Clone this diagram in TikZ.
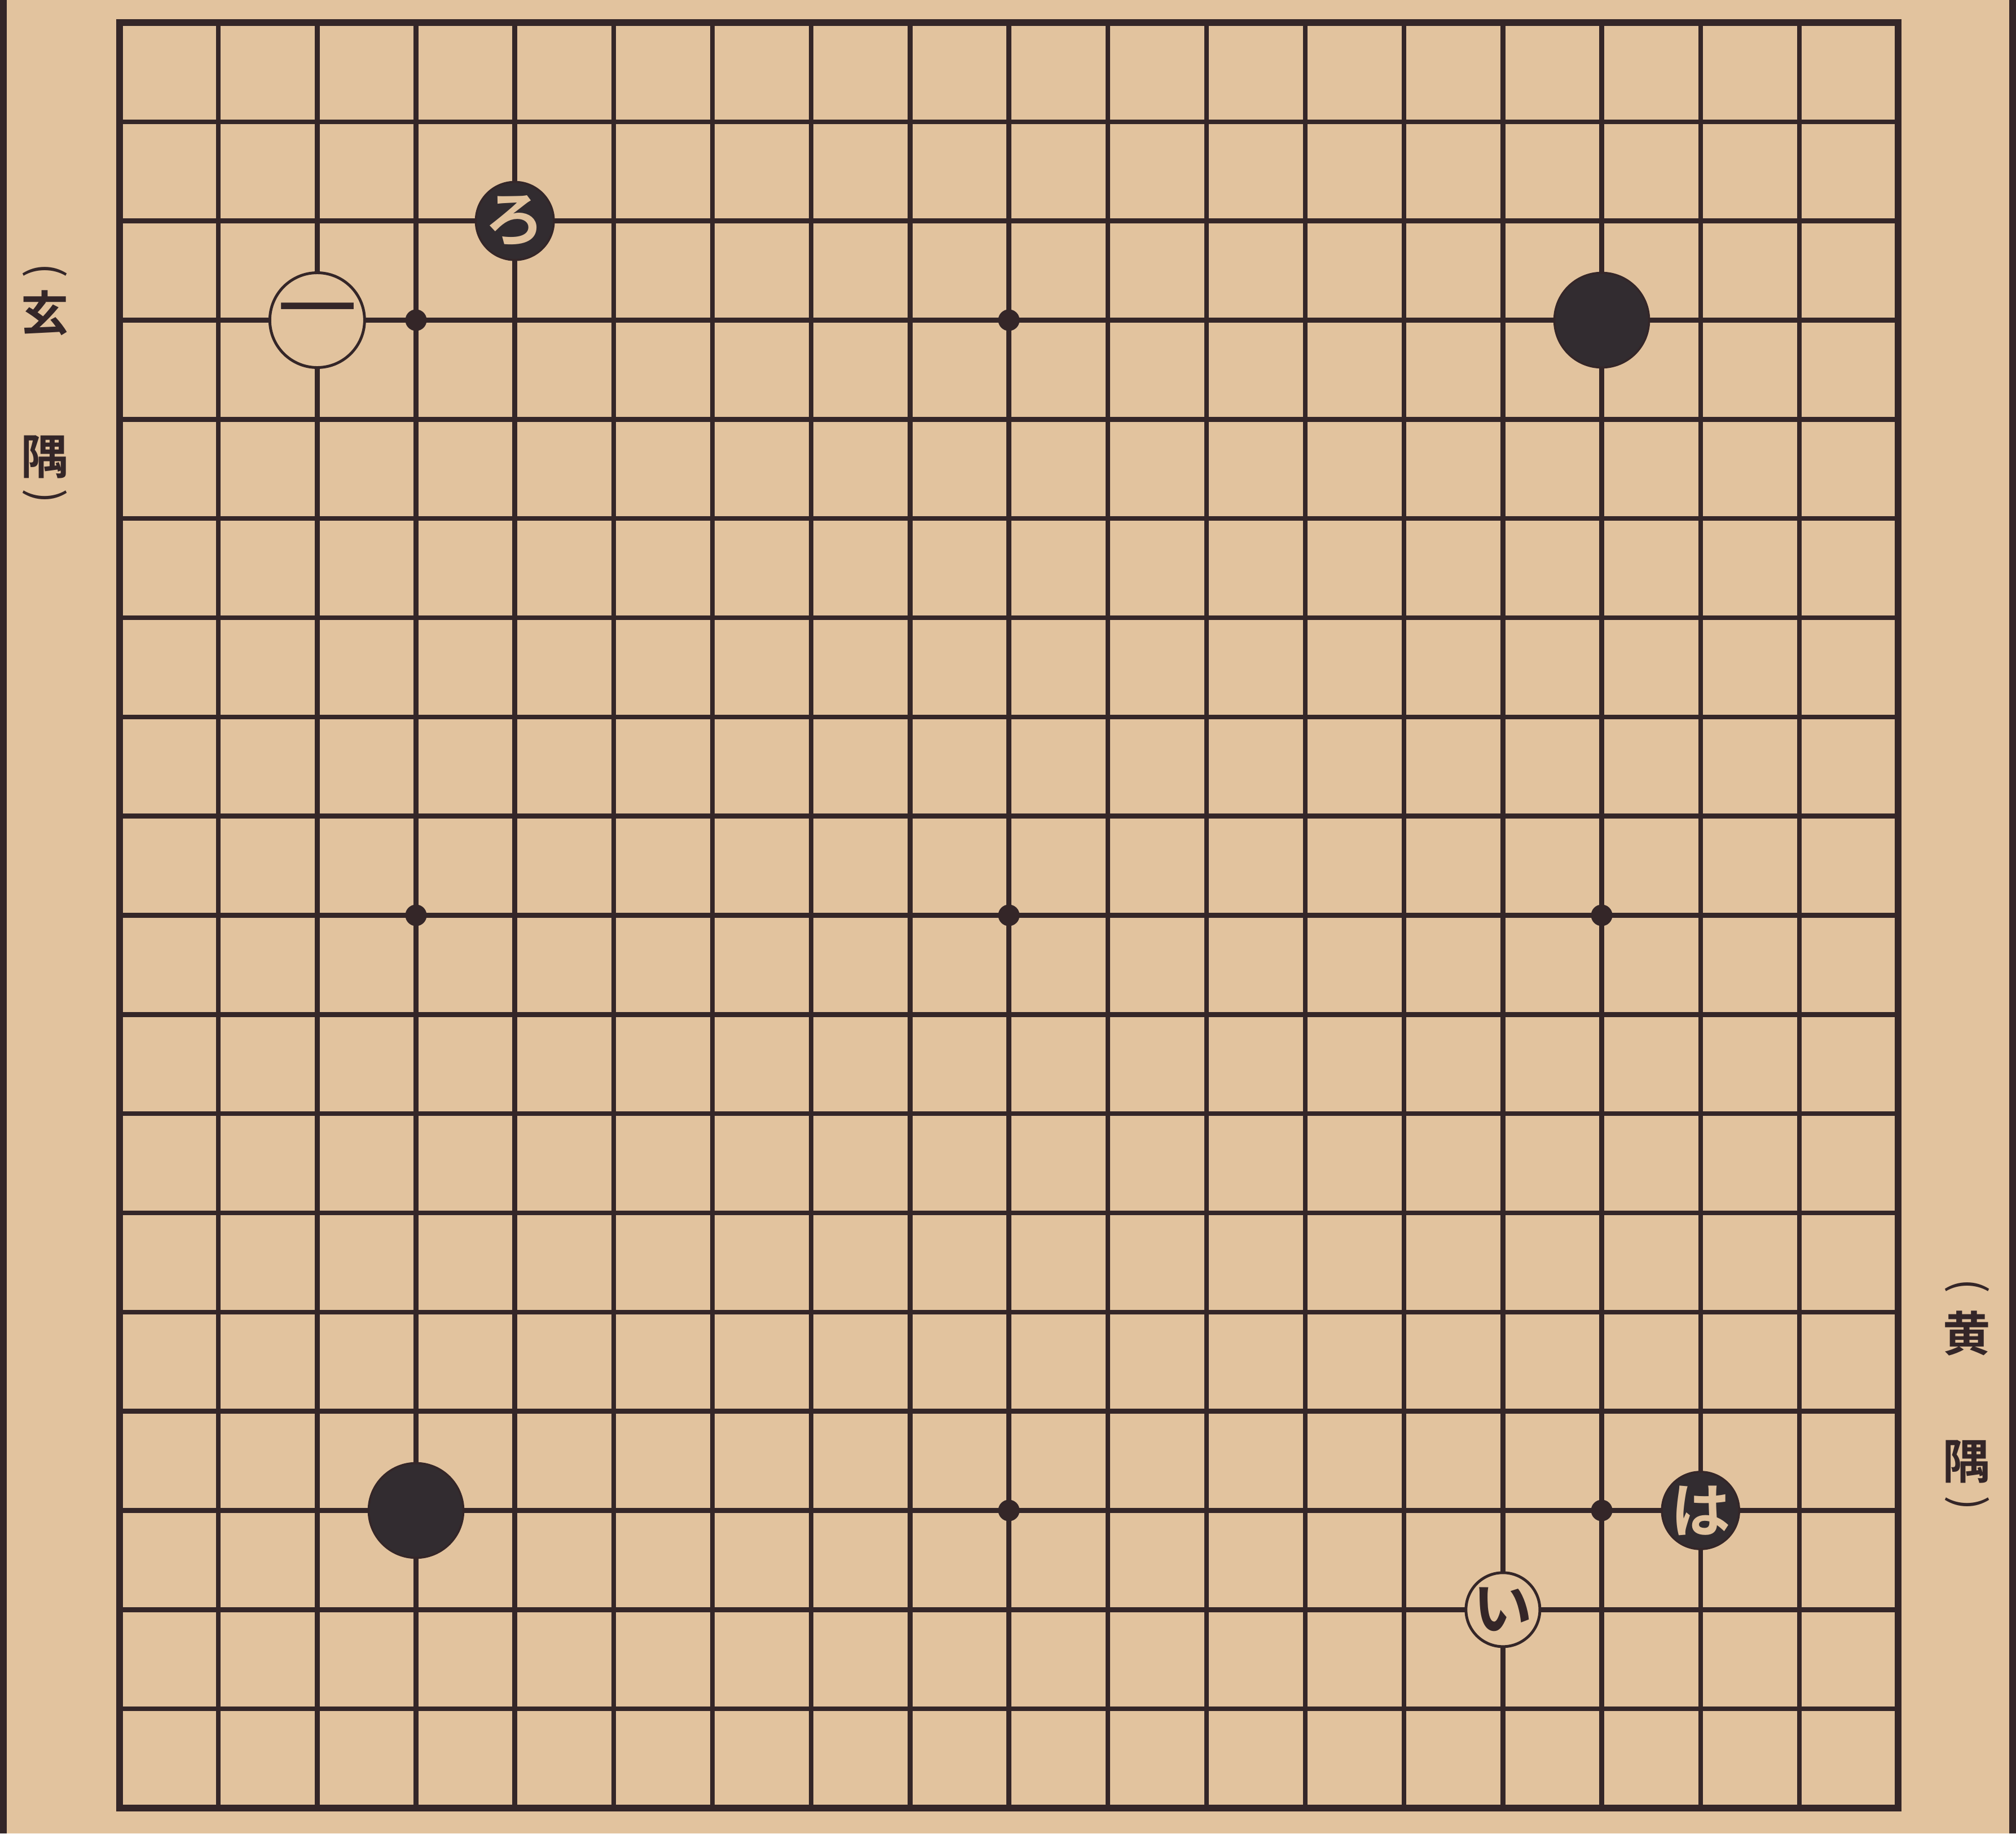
\documentclass[tikz,border=0pt]{standalone}
\usepackage{fontspec}
\newfontfamily\jpfont{Noto Sans CJK JP}[BoldFont={* Bold}]
\usetikzlibrary{positioning}
\definecolor{paper}{RGB}{226,195,158}
\definecolor{ink}{RGB}{52,38,40}
\definecolor{stoneblack}{RGB}{50,44,48}

\begin{document}
\begin{tikzpicture}[
    every node/.style={font=\jpfont},
    gridline/.style={ink, line width=2.4pt},
    frame/.style={ink, line width=3.2pt},
    bigblack/.style={circle, fill=stoneblack, draw=ink, line width=1pt, minimum size=1.68cm, inner sep=0pt},
    bigwhite/.style={circle, fill=paper, draw=ink, line width=1.4pt, minimum size=1.68cm, inner sep=0pt, text=ink, font=\jpfont\fontsize{40}{40}\selectfont},
    smallblack/.style={circle, fill=stoneblack, draw=ink, line width=1pt, minimum size=1.24cm, inner sep=0pt, text=paper, font=\jpfont\bfseries\fontsize{30}{30}\selectfont},
    smallwhite/.style={circle, fill=paper, draw=ink, line width=1.4pt, minimum size=1.24cm, inner sep=0pt, text=ink, font=\jpfont\bfseries\fontsize{30}{30}\selectfont},
    hoshi/.style={circle, fill=ink, minimum size=0.38cm, inner sep=0pt},
    corner/.style={inner sep=0pt, text=ink, font=\jpfont\bfseries\fontsize{24}{24}\selectfont},
    paren/.style={corner, rotate=-90, font=\jpfont\fontsize{22}{22}\selectfont}
]

% paper and page rules
\fill[paper] (0,0) rectangle (35.74,-32.50);
\useasboundingbox (0,0) rectangle (35.74,-32.50);
\draw[frame] (0.06,0) -- (0.06,-32.50);
\draw[frame] (35.68,0) -- (35.68,-32.50);

% board
\begin{scope}[shift={(2.12,-0.40)}, x=1.7517cm, y=-1.7583cm]
  \foreach \i in {1,...,17} {
    \draw[gridline] (\i,0) -- (\i,18);
    \draw[gridline] (0,\i) -- (18,\i);
  }
  \draw[frame] (0,0) rectangle (18,18);

  \foreach \x/\y in {3/3,9/3,15/3,3/9,9/9,15/9,3/15,9/15,15/15}
    \node[hoshi] (hoshi-\x-\y) at (\x,\y) {};

  % stones
  \node[bigwhite] (w-ichi) at (2,3) {一};
  \node[smallblack] (b-ro) at (4,2) {ろ};
  \node[bigblack] (b-ur) at (15,3) {};
  \node[bigblack] (b-ll) at (3,15) {};
  \node[smallwhite] (w-i) at (14,16) {い};
  \node[smallblack] (b-ha) at (16,15) {は};
\end{scope}

% corner names
\node[paren] (xuan-open) at (0.80,-4.80) {(};
\node[corner] (xuan) at (0.80,-5.55) {玄};
\node[corner] (xuan-yu) at (0.80,-8.10) {隅};
\node[paren] (xuan-close) at (0.80,-8.80) {)};

\node[paren] (huang-open) at (34.87,-22.80) {(};
\node[corner] (huang) at (34.87,-23.63) {黄};
\node[corner] (huang-yu) at (34.87,-25.91) {隅};
\node[paren] (huang-close) at (34.87,-26.65) {)};

\end{tikzpicture}
\end{document}
